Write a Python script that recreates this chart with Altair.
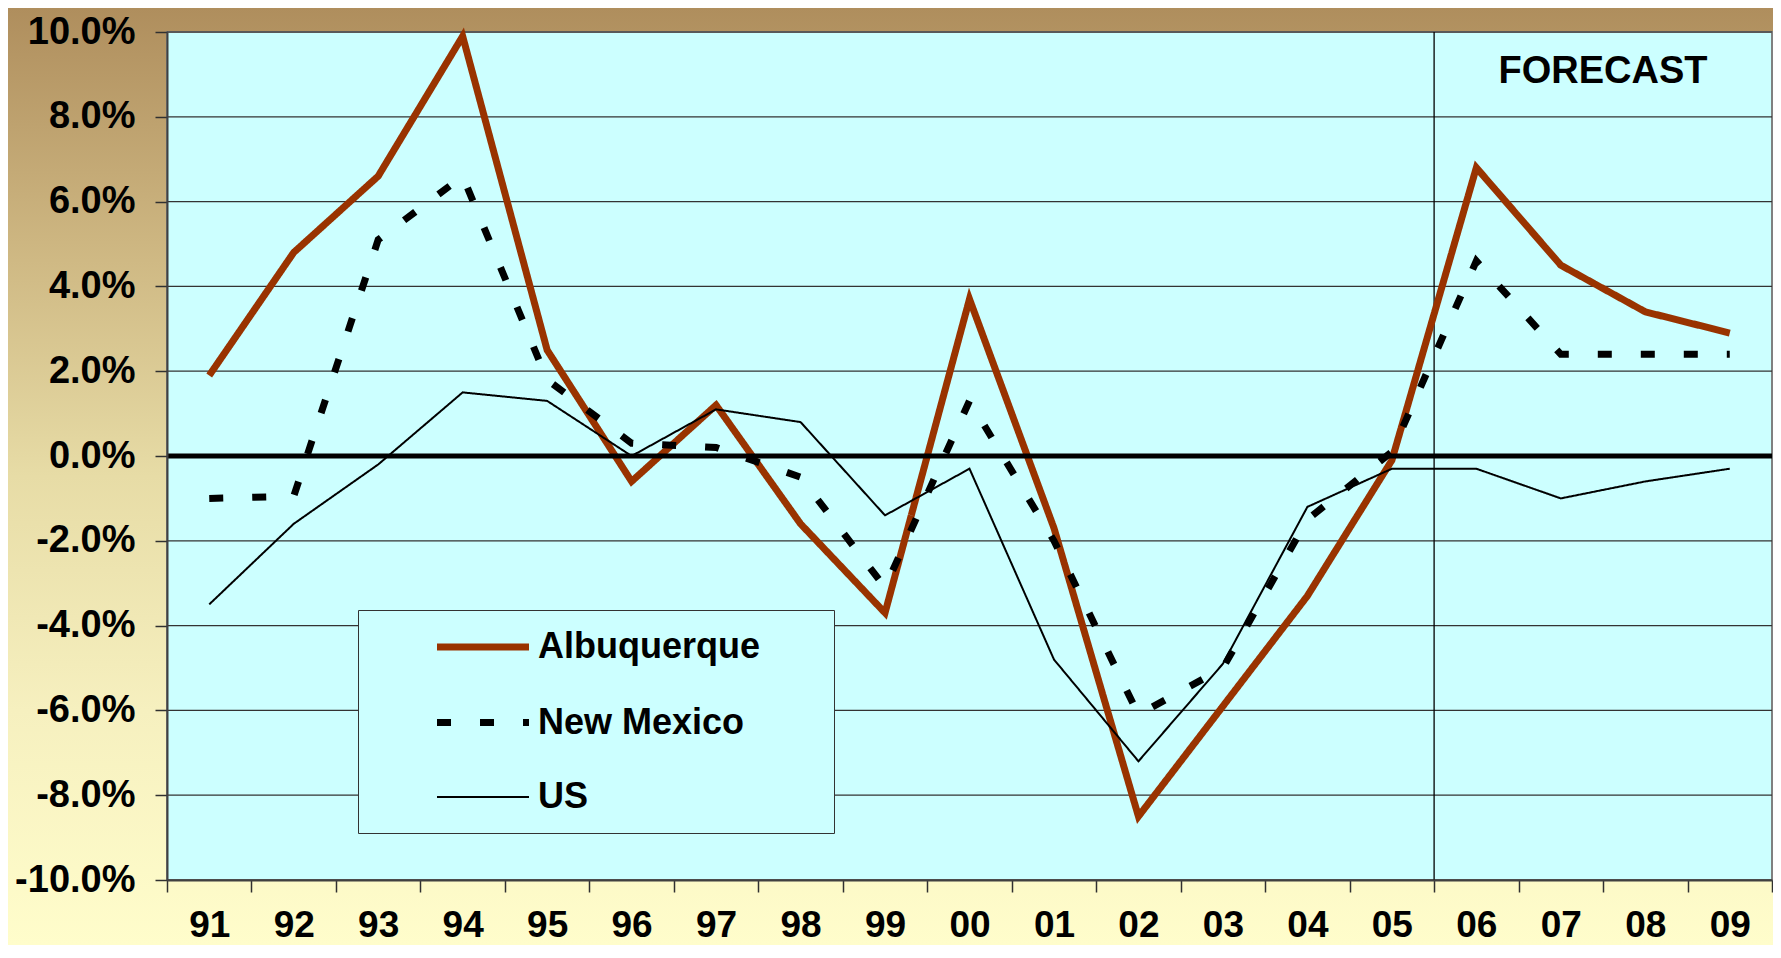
import altair as alt
import pandas as pd

# ---------------- data ----------------
years = ["91", "92", "93", "94", "95", "96", "97", "98", "99", "00",
         "01", "02", "03", "04", "05", "06", "07", "08", "09"]
albuquerque = [1.9, 4.8, 6.6, 9.9, 2.5, -0.6, 1.2, -1.6, -3.7, 3.7,
               -1.7, -8.5, -5.9, -3.3, -0.1, 6.8, 4.5, 3.4, 2.9]
new_mexico = [-1.0, -0.95, 5.1, 6.6, 1.8, 0.3, 0.2, -0.5, -3.1, 1.3,
              -2.0, -6.1, -5.0, -1.5, 0.1, 4.6, 2.4, 2.4, 2.4]
us = [-3.5, -1.6, -0.2, 1.5, 1.3, 0.0, 1.1, 0.8, -1.4, -0.3,
      -4.8, -7.2, -4.9, -1.2, -0.3, -0.3, -1.0, -0.6, -0.3]

series_names = ["Albuquerque", "New Mexico", "US"]
series_colors = ["#993300", "#000000", "#000000"]
series_dash = [[1, 0], [14, 29], [1, 0]]
series_width = [7, 7, 2]

y_ticks = [-10, -8, -6, -4, -2, 0, 2, 4, 6, 8, 10]
forecast_start = ["06"]
forecast_label = ["FORECAST"]
forecast_label_year = ["08"]
forecast_label_value = [8.8]

# ---------------- layout ----------------
W, H = 1605, 848
PAD_LEFT, PAD_TOP, PAD_RIGHT, PAD_BOTTOM = 159, 24, 1, 65
FONT = "Liberation Sans"

rows = []
for name, vals in zip(series_names, [albuquerque, new_mexico, us]):
    for i, (yr, v) in enumerate(zip(years, vals)):
        rows.append({"year": yr, "idx": i, "value": v, "series": name})
df = pd.DataFrame(rows)

x_scale = alt.Scale(type="band", domain=years, paddingInner=0, paddingOuter=0)
y_scale = alt.Scale(domain=[-10, 10], nice=False, zero=False)

x_axis = alt.Axis(title=None, tickBand="extent", labelAngle=0, tickSize=12,
                  labelPadding=15, labelFontSize=37, labelFont=FONT,
                  labelFontWeight="bold", labelColor="black",
                  domainColor="#404040", domainWidth=2,
                  tickColor="#303030", tickWidth=1.5, grid=False, zindex=1)
y_axis = alt.Axis(title=None, values=y_ticks,
                  labelExpr="(datum.value < 0 ? '-' : '') + format(abs(datum.value), '.1f') + '%'",
                  tickSize=12, labelPadding=20, labelFontSize=38,
                  labelFont=FONT, labelFontWeight="bold", labelColor="black",
                  domainColor="#404040", domainWidth=2,
                  tickColor="#303030", tickWidth=1.5, grid=False, zindex=1)

one = pd.DataFrame({"k": [0]})

gradient = alt.Gradient(
    gradient="linear",
    stops=[alt.GradientStop(color="#AF8E5D", offset=0),
           alt.GradientStop(color="#CDB681", offset=0.25),
           alt.GradientStop(color="#E7DCA6", offset=0.5),
           alt.GradientStop(color="#F6F0BF", offset=0.75),
           alt.GradientStop(color="#FFFDCB", offset=1)],
    x1=0, x2=0, y1=0, y2=1)

background = alt.Chart(one).mark_rect(fill=gradient).encode(
    x=alt.value(-PAD_LEFT - 10), x2=alt.value(W + 10),
    y=alt.value(-PAD_TOP), y2=alt.value(H + PAD_BOTTOM))

plot_bg = alt.Chart(one).mark_rect(fill="#CCFFFF", stroke="#808080",
                                   strokeWidth=2).encode(
    x=alt.value(0), x2=alt.value(W), y=alt.value(0), y2=alt.value(H))

grid = alt.Chart(pd.DataFrame({"v": y_ticks})).mark_rule(
    color="#333333", strokeWidth=1.2).encode(
    y=alt.Y("v:Q", scale=y_scale, axis=y_axis))

forecast_rule = alt.Chart(pd.DataFrame({"year": forecast_start})).mark_rule(
    color="black", strokeWidth=1.3).encode(
    x=alt.X("year:N", scale=x_scale, axis=x_axis, bandPosition=0))

legend = alt.Legend(title=None, orient="none", legendX=191, legendY=578,
                    padding=18, strokeColor="#333333", fillColor="#CCFFFF",
                    symbolType="M-3,0H3M20.8,0", symbolSize=940, symbolOffset=88,
                    labelOffset=36, rowPadding=38.5, labelFontSize=36,
                    labelFont=FONT, labelFontWeight="bold", labelColor="black",
                    labelLimit=600)

lines = alt.Chart(df).mark_line(strokeJoin="miter").encode(
    x=alt.X("year:N", scale=x_scale, axis=x_axis, bandPosition=0.5),
    y=alt.Y("value:Q", scale=y_scale, axis=y_axis),
    color=alt.Color("series:N",
                    scale=alt.Scale(domain=series_names, range=series_colors),
                    legend=legend),
    strokeDash=alt.StrokeDash("series:N",
                              scale=alt.Scale(domain=series_names, range=series_dash),
                              legend=legend),
    strokeWidth=alt.StrokeWidth("series:N",
                                scale=alt.Scale(type="ordinal", domain=series_names,
                                                range=series_width),
                                legend=legend),
    order=alt.Order("idx:Q"),
)

zero_line = alt.Chart(pd.DataFrame({"v": [0]})).mark_rule(
    color="black", strokeWidth=5).encode(
    y=alt.Y("v:Q", scale=y_scale, axis=y_axis))

label_df = pd.DataFrame({"year": forecast_label_year,
                         "v": forecast_label_value,
                         "label": forecast_label})
forecast_text = alt.Chart(label_df).mark_text(
    font=FONT, fontSize=38, fontWeight="bold", color="black",
    align="center", baseline="alphabetic").encode(
    x=alt.X("year:N", scale=x_scale, axis=x_axis, bandPosition=0),
    y=alt.Y("v:Q", scale=y_scale, axis=y_axis),
    text="label:N")

chart = alt.layer(
    background, plot_bg, grid, forecast_rule, lines, zero_line, forecast_text
).properties(
    width=W, height=H,
    autosize=alt.AutoSizeParams(type="none"),
    padding={"left": PAD_LEFT, "top": PAD_TOP, "right": PAD_RIGHT,
             "bottom": PAD_BOTTOM},
).configure_view(stroke=None).configure(background="#FFFDCB")

chart.save("out.html", embed_options={"renderer": "svg", "actions": False})
